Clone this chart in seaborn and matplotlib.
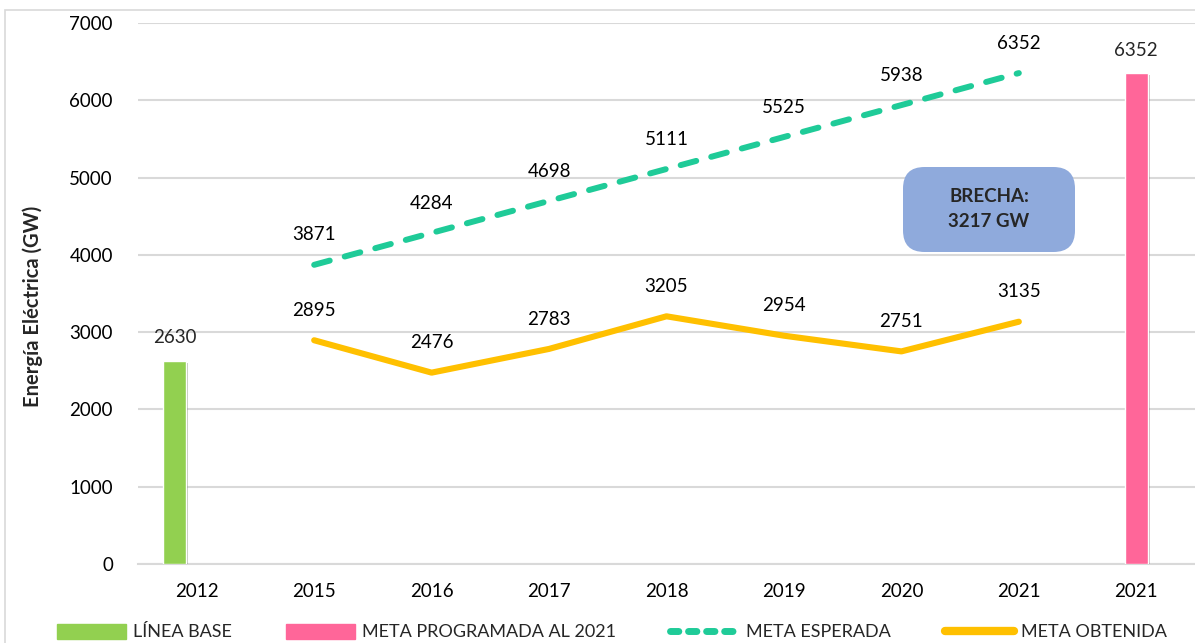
import numpy as np
import pandas as pd
import matplotlib
matplotlib.use('Agg')
from matplotlib import pyplot as plt
from matplotlib.patches import FancyBboxPatch, Rectangle, Patch
from matplotlib.lines import Line2D
from matplotlib import patheffects as pe
import seaborn as sns

# data
categories = ['2012', '2015', '2016', '2017', '2018', '2019', '2020', '2021', '2021']
base_value = [2630]           # LÍNEA BASE, 2012
meta_programada = [6352]      # META PROGRAMADA AL 2021
line_years = ['2015', '2016', '2017', '2018', '2019', '2020', '2021']
meta_esperada = [3871, 4284, 4698, 5111, 5525, 5938, 6352]
meta_obtenida = [2895, 2476, 2783, 3205, 2954, 2751, 3135]
brecha_text = 'BRECHA:\n3217 GW'

sns.set_theme(style='white')
plt.rcParams['font.family'] = ['Lato', 'DejaVu Sans']

c_base = '#92D050'
c_prog = '#FF6699'
c_esp = '#1FCB98'
c_obt = '#FFC000'
c_grid = '#D9D9D9'

fig = plt.figure(figsize=(11.95, 6.43), dpi=100)
ax = fig.add_axes([138 / 1195, 1 - 564 / 643, 1 - 138 / 1195, (564 - 23) / 643])

# outer frame of the chart area
fig.patches.append(Rectangle((5 / 1195, -0.1), 1.2, 1 - 10 / 643 + 0.1,
                             transform=fig.transFigure, fill=False,
                             edgecolor=c_grid, linewidth=1.2))

pos = np.arange(len(categories))
line_pos = pos[1:8]
df = pd.DataFrame({'pos': line_pos, 'esperada': meta_esperada, 'obtenida': meta_obtenida})

shadow = [pe.SimplePatchShadow(offset=(1.5, -1.5), alpha=0.3), pe.Normal()]
bw = 0.195
b1 = ax.bar(pos[0] - 0.19, base_value, width=bw, color=c_base, zorder=3)
b2 = ax.bar(pos[8], meta_programada, width=bw, color=c_prog, zorder=3)
for b in list(b1) + list(b2):
    b.set_path_effects(shadow)

sns.lineplot(data=df, x='pos', y='esperada', ax=ax, color=c_esp, linewidth=4.3,
             zorder=4)
esp_line = ax.lines[-1]
esp_line.set_dashes((2.7, 2.6))
esp_line.set_dash_capstyle('round')
sns.lineplot(data=df, x='pos', y='obtenida', ax=ax, color=c_obt, linewidth=4.4,
             zorder=4)
ax.lines[-1].set_solid_capstyle('round')

fs = 13.5
for x, v in zip(line_pos, meta_esperada):
    ax.annotate(str(v), (x, v), xytext=(0, 21.5), textcoords='offset points',
                ha='center', va='center', fontsize=fs, color='black')
for x, v in zip(line_pos, meta_obtenida):
    ax.annotate(str(v), (x, v), xytext=(0, 21.5), textcoords='offset points',
                ha='center', va='center', fontsize=fs, color='black')
ax.annotate(str(base_value[0]), (pos[0] - 0.19, base_value[0]), xytext=(0, 17),
            textcoords='offset points', ha='center', va='center', fontsize=fs)
ax.annotate(str(meta_programada[0]), (pos[8], meta_programada[0]), xytext=(0, 16),
            textcoords='offset points', ha='center', va='center', fontsize=fs)

# gap box
box = FancyBboxPatch((903 / 1195, 1 - 252 / 643), 172 / 1195, 85 / 643,
                     boxstyle='round,pad=0,rounding_size=0.018',
                     transform=fig.transFigure, facecolor='#8FAADC',
                     edgecolor='none', zorder=5, mutation_aspect=1195 / 643)
fig.patches.append(box)
fig.text(989 / 1195, 1 - 209 / 643, brecha_text, ha='center', va='center',
         fontsize=13.5, fontweight='bold', linespacing=1.6, zorder=6)

ax.set_xlim(-0.5, 8.5)
ax.set_ylim(0, 7000)
ax.set_yticks(range(0, 7001, 1000))
ax.set_xticks(pos)
ax.set_xticklabels(categories)
ax.tick_params(axis='both', length=0, labelsize=fs, colors='black')
ax.tick_params(axis='x', pad=14)
ax.tick_params(axis='y', pad=18)
ax.grid(axis='y', color=c_grid, linewidth=1.5, zorder=0)
ax.set_axisbelow(True)
for s in ['left', 'right', 'top']:
    ax.spines[s].set_visible(False)
ax.spines['bottom'].set_color(c_grid)
ax.spines['bottom'].set_linewidth(1.5)
ax.set_xlabel('')
ax.set_ylabel('')
fig.text(33 / 1195, 1 - 306 / 643, 'Energía Eléctrica (GW)', rotation=90,
         ha='center', va='center', fontsize=14.5, fontweight='bold')

# legend
handles = [
    Patch(color=c_base, label='LÍNEA BASE'),
    Patch(color=c_prog, label='META PROGRAMADA AL 2021'),
    Line2D([], [], color=c_esp, linewidth=5, dashes=(1.2, 1.4),
           dash_capstyle='round', label='META ESPERADA'),
    Line2D([], [], color=c_obt, linewidth=6, solid_capstyle='round',
           label='META OBTENIDA'),
]
fig.legend(handles=handles, loc='center', bbox_to_anchor=(612 / 1195, 1 - 632 / 643),
           ncol=4, frameon=False, fontsize=13, handlelength=3.8, handleheight=0.9,
           handletextpad=0.4, columnspacing=3.0)

fig.savefig('out.png', dpi=100)
